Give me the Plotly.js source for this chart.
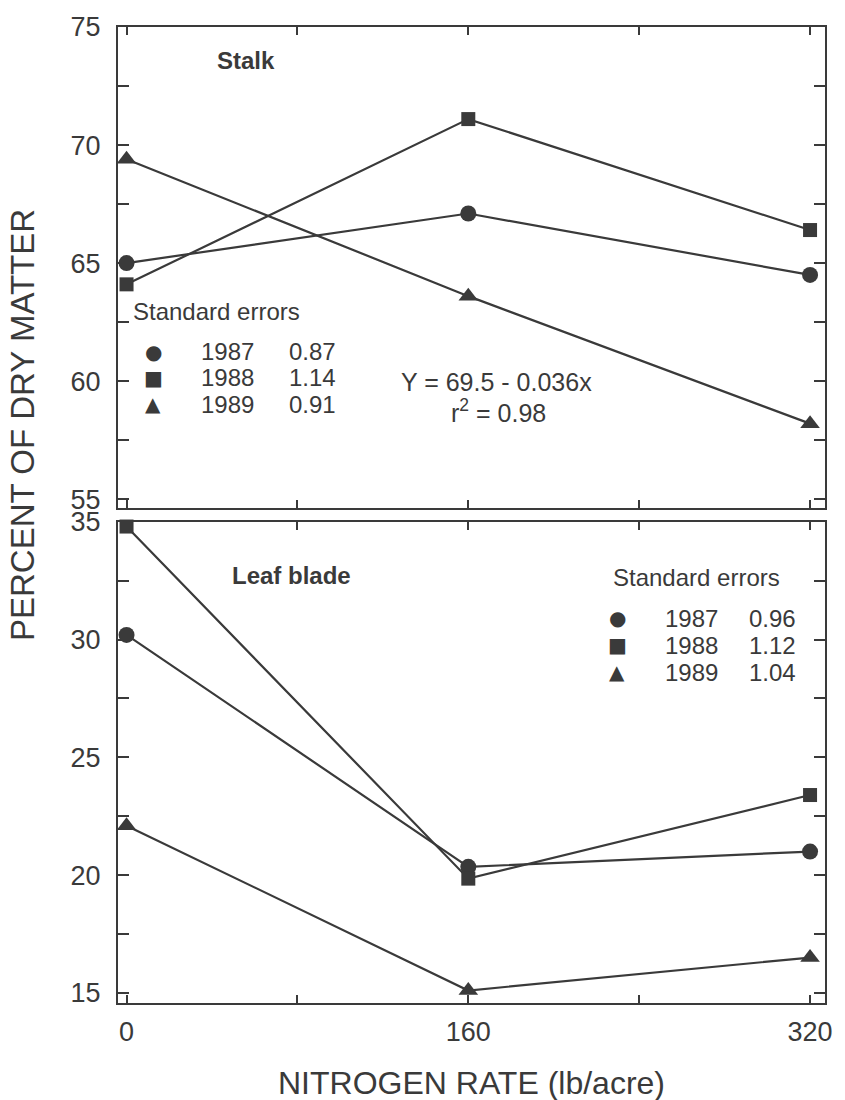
<!DOCTYPE html>
<html>
<head>
<meta charset="utf-8">
<script src="https://cdn.plot.ly/plotly-3.0.1.min.js"></script>
<style>html,body{margin:0;padding:0;background:#fff;}#chart{width:845px;height:1100px;}</style>
</head>
<body>
<div id="chart"></div>
<script>
// ---- data ----
const nitrogenRate = [0, 160, 320];
const years = ['1987', '1988', '1989'];
const stalk1987 = [65.0, 67.1, 64.5];
const stalk1988 = [64.1, 71.1, 66.4];
const stalk1989 = [69.4, 63.6, 58.2];
const leaf1987 = [30.2, 20.35, 21.0];
const leaf1988 = [34.8, 19.85, 23.4];
const leaf1989 = [22.1, 15.1, 16.5];
const stalkSE = ['0.87', '1.14', '0.91'];
const leafSE = ['0.96', '1.12', '1.04'];
const xTickVals = [0, 160, 320];
const xTickText = ['0', '160', '320'];

// ---- styles ----
const INK = '#3a3a3a';
const FONT = 'Liberation Sans, Arial, Helvetica, sans-serif';
const symbols = ['circle', 'square', 'triangle-up'];
const glyphs = ['\u25CF', '\u25A0', '\u25B2'];
const sizes = [16, 14, 17];

// plot-area geometry in pixels
const L = 118, R = 825, T = 27, B = 1003, W = 845, H = 1100;
const px = x => (x - L) / (R - L);
const py = y => (B - y) / (B - T);

const stalkSeries = [stalk1987, stalk1988, stalk1989];
const leafSeries = [leaf1987, leaf1988, leaf1989];

const traces = [];
stalkSeries.forEach((ys, i) => traces.push({
  x: nitrogenRate, y: ys, xaxis: 'x2', yaxis: 'y2', type: 'scatter', mode: 'lines+markers',
  name: years[i], cliponaxis: false, showlegend: false,
  line: {color: INK, width: 2.2},
  marker: {symbol: symbols[i], size: sizes[i], color: INK}
}));
leafSeries.forEach((ys, i) => traces.push({
  x: nitrogenRate, y: ys, xaxis: 'x', yaxis: 'y', type: 'scatter', mode: 'lines+markers',
  name: years[i], cliponaxis: false, showlegend: false,
  line: {color: INK, width: 2.2},
  marker: {symbol: symbols[i], size: sizes[i], color: INK}
}));

const tickFont = {family: FONT, size: 27, color: INK};
const xBase = {
  range: [-4, 327], tickmode: 'array', tickvals: xTickVals, ticktext: xTickText,
  ticks: 'inside', ticklen: 8, tickwidth: 2, tickcolor: INK,
  minor: {dtick: 80, tick0: 0, ticks: 'inside', ticklen: 8, tickwidth: 2, tickcolor: INK},
  showline: true, linecolor: INK, linewidth: 2, mirror: 'ticks',
  showgrid: false, zeroline: false, tickfont: tickFont, ticklabelstandoff: 4
};
const yBase = {
  tickmode: 'linear', dtick: 5,
  ticks: 'inside', ticklen: 11, tickwidth: 2, tickcolor: INK,
  minor: {dtick: 2.5, ticks: 'inside', ticklen: 11, tickwidth: 2, tickcolor: INK},
  showline: true, linecolor: INK, linewidth: 2, mirror: 'ticks',
  showgrid: false, zeroline: false, tickfont: tickFont, ticklabelstandoff: 10
};

const annFont = (s, extra) => Object.assign({family: FONT, size: s, color: INK}, extra || {});
const ann = (text, x, y, size, xanchor, extra) => ({
  text: text, xref: 'paper', yref: 'paper', x: px(x), y: py(y),
  xanchor: xanchor || 'left', yanchor: 'middle', showarrow: false,
  font: annFont(size, extra)
});

const annotations = [
  ann('<b>Stalk</b>', 215, 60, 24),
  ann('Standard errors', 131, 311, 24),
  ann('Y = 69.5 - 0.036x', 496, 382, 25, 'center'),
  ann('r<sup>2</sup> = 0.98', 498, 411, 25, 'center'),
  ann('<b>Leaf blade</b>', 230, 575, 24),
  ann('Standard errors', 611, 577, 24),
  {text: 'PERCENT OF DRY MATTER', xref: 'paper', yref: 'paper', x: px(22), y: py(425),
   xanchor: 'center', yanchor: 'middle', textangle: -90, showarrow: false, font: annFont(33)},
  {text: 'NITROGEN RATE (lb/acre)', xref: 'paper', yref: 'paper', x: px(471), y: py(1083),
   xanchor: 'center', yanchor: 'middle', showarrow: false, font: annFont(32)}
];
const stalkRows = [352, 378, 404];
const leafRows = [618, 645, 672];
years.forEach((yr, i) => {
  annotations.push(ann(glyphs[i], 153, stalkRows[i], 20, 'center', {family: 'DejaVu Sans'}));
  annotations.push(ann(yr, 199, stalkRows[i], 24));
  annotations.push(ann(stalkSE[i], 287, stalkRows[i], 24));
  annotations.push(ann(glyphs[i], 617, leafRows[i], 20, 'center', {family: 'DejaVu Sans'}));
  annotations.push(ann(yr, 663, leafRows[i], 24));
  annotations.push(ann(leafSE[i], 747, leafRows[i], 24));
});

const layout = {
  width: W, height: H,
  margin: {l: L, r: W - R, t: T, b: H - B},
  paper_bgcolor: '#ffffff', plot_bgcolor: '#ffffff',
  showlegend: false,
  xaxis: Object.assign({}, xBase, {anchor: 'y', domain: [0, 1]}),
  xaxis2: Object.assign({}, xBase, {anchor: 'y2', matches: 'x', showticklabels: false}),
  yaxis: Object.assign({}, yBase, {range: [14.57, 35.0], domain: [0, 0.493]}),
  yaxis2: Object.assign({}, yBase, {range: [54.62, 75.0], domain: [0.507, 1]}),
  annotations: annotations
};

Plotly.newPlot('chart', traces, layout, {staticPlot: true, displayModeBar: false});
</script>
</body>
</html>
